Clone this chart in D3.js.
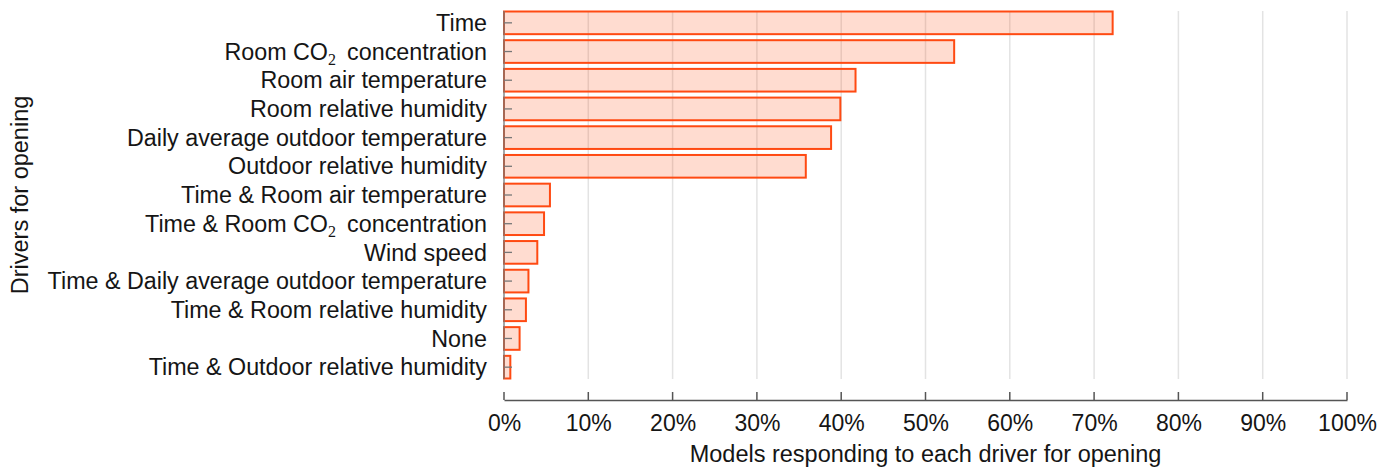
<!DOCTYPE html>
<html>
<head>
<meta charset="utf-8">
<script src="https://cdn.jsdelivr.net/npm/d3@7"></script>
<style>
  html, body { margin: 0; padding: 0; background: #fff; }
  svg { display: block; font-family: "Liberation Sans", Arial, Helvetica, sans-serif; }
</style>
</head>
<body>
<svg id="chart" width="1390" height="468"></svg>
<script>
// Drivers for window opening, top to bottom
const drivers = [
  "Time",
  "Room CO2 concentration",
  "Room air temperature",
  "Room relative humidity",
  "Daily average outdoor temperature",
  "Outdoor relative humidity",
  "Time & Room air temperature",
  "Time & Room CO2 concentration",
  "Wind speed",
  "Time & Daily average outdoor temperature",
  "Time & Room relative humidity",
  "None",
  "Time & Outdoor relative humidity"
];
// Share of models responding to each driver (%)
const shares = [72.2, 53.4, 41.7, 39.9, 38.8, 35.8, 5.45, 4.75, 3.95, 2.9, 2.6, 1.85, 0.75];
const xTicks = [0, 10, 20, 30, 40, 50, 60, 70, 80, 90, 100];

const svg = d3.select("#chart");
const W = 1390, H = 468;
const plot = { left: 504, right: 1347, top: 11, bottom: 379 };

const x = d3.scaleLinear().domain([0, 100]).range([plot.left, plot.right]);
const y = d3.scaleBand().domain(drivers).range([plot.top + 0.5, plot.bottom - 0.5]).paddingInner(0.21).paddingOuter(0);

const data = drivers.map((d, i) => ({ driver: d, value: shares[i] }));

// vertical grid
svg.append("g")
  .selectAll("line")
  .data(xTicks.filter(t => t > 0))
  .join("line")
  .attr("x1", d => x(d)).attr("x2", d => x(d))
  .attr("y1", plot.top).attr("y2", plot.bottom)
  .attr("stroke", "#e3e3e3").attr("stroke-width", 1.5);

// bars
svg.append("g")
  .selectAll("rect")
  .data(data)
  .join("rect")
  .attr("x", x(0))
  .attr("y", d => y(d.driver))
  .attr("width", d => x(d.value) - x(0))
  .attr("height", y.bandwidth())
  .attr("fill", "rgba(255,80,20,0.2)")
  .attr("stroke", "#ff4a12")
  .attr("stroke-width", 2);

// left axis line and inward ticks
const yAxisG = svg.append("g");
yAxisG.append("line")
  .attr("x1", x(0)).attr("x2", x(0))
  .attr("y1", plot.top).attr("y2", plot.bottom)
  .attr("stroke", "#777").attr("stroke-width", 1.3);
yAxisG.selectAll("line.tick")
  .data(drivers)
  .join("line")
  .attr("class", "tick")
  .attr("x1", x(0)).attr("x2", x(0) + 8)
  .attr("y1", d => y(d) + y.bandwidth() / 2)
  .attr("y2", d => y(d) + y.bandwidth() / 2)
  .attr("stroke", "#777").attr("stroke-width", 1.3);

// category labels, CO2 rendered with a subscript
const labelG = svg.append("g");
data.forEach(d => {
  const t = labelG.append("text")
    .attr("x", x(0) - 17)
    .attr("y", y(d.driver) + y.bandwidth() / 2)
    .attr("dy", "0.35em")
    .attr("text-anchor", "end")
    .attr("font-size", 23.3)
    .attr("fill", "#151515");
  const parts = d.driver.split("CO2");
  if (parts.length === 1) {
    t.text(d.driver);
  } else {
    t.append("tspan").text(parts[0] + "CO");
    t.append("tspan").attr("font-family", "'Liberation Serif', 'DejaVu Serif', serif")
      .attr("font-size", 16).attr("dy", 5.5).text("2");
    t.append("tspan").attr("dy", -5.5).text("\u00a0\u2009" + parts[1].trim());
  }
});

// bottom axis
const axisY = 400;
const xAxis = d3.axisBottom(x).tickValues(xTicks).tickSize(0).tickFormat(d => d + "%");
const xg = svg.append("g").attr("transform", `translate(0,${axisY})`).call(xAxis);
xg.select(".domain").attr("stroke", "#555").attr("stroke-width", 1.5);
xg.selectAll(".tick line").remove();
xg.selectAll(".tick text")
  .attr("font-family", "'Liberation Sans', Arial, sans-serif")
  .attr("font-size", 23).attr("fill", "#151515").attr("y", 30.5).attr("dy", 0);
svg.append("g").selectAll("line")
  .data(xTicks)
  .join("line")
  .attr("x1", d => x(d)).attr("x2", d => x(d))
  .attr("y1", axisY - 8).attr("y2", axisY)
  .attr("stroke", "#555").attr("stroke-width", 1.5);

// axis titles
svg.append("text")
  .attr("x", (x(0) + x(100)) / 2)
  .attr("y", 461.5)
  .attr("text-anchor", "middle")
  .attr("font-size", 23.5).attr("fill", "#151515")
  .text("Models responding to each driver for opening");

svg.append("text")
  .attr("transform", `translate(20,${(plot.top + plot.bottom) / 2}) rotate(-90)`)
  .attr("dy", "0.35em")
  .attr("text-anchor", "middle")
  .attr("font-size", 23.5).attr("fill", "#151515")
  .text("Drivers for opening");
</script>
</body>
</html>
